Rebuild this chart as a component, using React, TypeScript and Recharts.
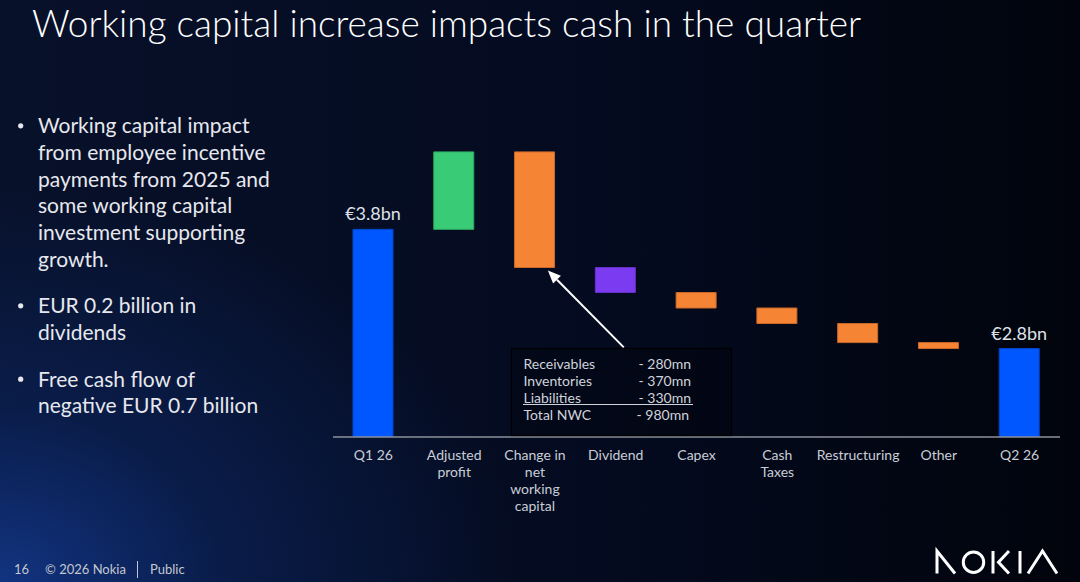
import React from 'react';
import { ComposedChart, Bar, XAxis, YAxis, Cell, LabelList, ReferenceLine } from 'recharts';

const FONT = 'Lato, "Open Sans", sans-serif';

// ---- data ----
const categories = [
  'Q1 26',
  'Adjusted\nprofit',
  'Change in\nnet\nworking\ncapital',
  'Dividend',
  'Capex',
  'Cash\nTaxes',
  'Restructuring',
  'Other',
  'Q2 26',
];
// totals for first & last, deltas in between (EUR bn)
const values = [3.8, 0.65, -0.97, -0.21, -0.13, -0.13, -0.16, -0.05, 2.8];
const kinds = ['total', 'up', 'down', 'purple', 'down', 'down', 'down', 'down', 'total'];
const totalLabels = ['€3.8bn', '', '', '', '', '', '', '', '€2.8bn'];
const yDomain = [2.058, 4.6];

const nwcRows = [
  ['Receivables', '- 280mn'],
  ['Inventories', '- 370mn'],
  ['Liabilities', '- 330mn'],
  ['Total NWC', '- 980mn'],
];

const bullets = [
  ['Working capital impact', 'from employee incentive', 'payments from 2025 and', 'some working capital', 'investment supporting', 'growth.'],
  ['EUR 0.2 billion in', 'dividends'],
  ['Free cash flow of', 'negative EUR 0.7 billion'],
];

// arrow annotation in data space (category index where centres are integers, value)
const arrowFrom = { x: 3.1, y: 2.81 };
const arrowTo = { x: 2.16, y: 3.455 };

const colors: Record<string, string> = {
  total: '#0057FF',
  up: '#39CB75',
  down: '#F58434',
  purple: '#7B3BF0',
};
const strokes: Record<string, string> = {
  total: '#0047cc',
  up: '#2ea862',
  down: '#c9692a',
  purple: '#6630c8',
};

// build waterfall ranges
let running = 0;
const data = categories.map((name, i) => {
  let range: [number, number];
  if (kinds[i] === 'total') {
    running = values[i];
    range = [0, values[i]];
  } else {
    const start = running;
    running = running + values[i];
    range = [Math.min(start, running), Math.max(start, running)];
  }
  return { name, idx: i, range, label: totalLabels[i], kind: kinds[i] };
});

const Tick = (props: any) => {
  const { x, y, payload } = props;
  const lines = String(payload.value).split('\n');
  return (
    <text x={x} y={y} textAnchor="middle" fill="#c9cdd6" fontSize={14} fontFamily={FONT}>
      {lines.map((l, i) => (
        <tspan key={i} x={x} dy={i === 0 ? 23 : 17}>
          {l}
        </tspan>
      ))}
    </text>
  );
};

const ArrowShape = (p: any) => {
  const { x1, y1, x2, y2 } = p;
  const ang = Math.atan2(y2 - y1, x2 - x1);
  const L = 13;
  const W = 5.5;
  const bx = x2 - L * Math.cos(ang);
  const by = y2 - L * Math.sin(ang);
  const px = -Math.sin(ang) * W;
  const py = Math.cos(ang) * W;
  return (
    <g>
      <line x1={x1} y1={y1} x2={bx} y2={by} stroke="#ffffff" strokeWidth={2} />
      <polygon points={`${x2},${y2} ${bx + px},${by + py} ${bx - px},${by - py}`} fill="#ffffff" />
    </g>
  );
};

export default function App() {
  return (
    <div
      style={{
        position: 'absolute',
        left: 0,
        top: 0,
        width: 1080,
        height: 582,
        overflow: 'hidden',
        fontFamily: FONT,
        background:
          'radial-gradient(ellipse 60% 85% at 0% 100%, rgba(20,60,150,0.8) 0%, rgba(12,40,105,0.5) 35%, rgba(0,0,0,0) 80%), linear-gradient(to right, #08112a 0%, #040b20 55%, #01040c 100%)',
      }}
    >
      <div style={{ position: 'absolute', left: 0, top: 0 }}>
        <ComposedChart
          width={1080}
          height={582}
          data={data}
          margin={{ top: 134, right: 20, bottom: 115, left: 333 }}
        >
          <XAxis
            dataKey="name"
            height={30}
            interval={0}
            tickLine={false}
            tickSize={0}
            tickMargin={0}
            axisLine={{ stroke: '#8b909a', strokeWidth: 1.5 }}
            tick={<Tick />}
          />
          <XAxis
            xAxisId="num"
            dataKey="idx"
            type="number"
            domain={[-0.5, 8.5]}
            hide
            allowDataOverflow
          />
          <YAxis hide domain={yDomain} allowDataOverflow type="number" />
          <Bar dataKey="range" barSize={40} isAnimationActive={false}>
            {data.map((d, i) => (
              <Cell key={i} fill={colors[d.kind]} stroke={strokes[d.kind]} strokeWidth={1} />
            ))}
            <LabelList
              dataKey="label"
              position="top"
              offset={9}
              fill="#dfe2e8"
              fontSize={18}
              fontFamily={FONT}
            />
          </Bar>
          <ReferenceLine
            xAxisId="num"
            segment={[arrowFrom, arrowTo]}
            ifOverflow="visible"
            shape={ArrowShape}
          />
        </ComposedChart>
      </div>

      <svg
        width={1080}
        height={582}
        style={{ position: 'absolute', left: 0, top: 0, pointerEvents: 'none' }}
        fontFamily={FONT}
      >
        {/* title */}
        <text x={32} y={37} fill="#ffffff" fontSize={37} fontWeight={300}>
          Working capital increase impacts cash in the quarter
        </text>

        {/* bullets */}
        {(() => {
          const out: any[] = [];
          let y = 133.3;
          bullets.forEach((b, bi) => {
            out.push(<circle key={`d${bi}`} cx={20.7} cy={y - 7.5} r={2.6} fill="#e6e8ee" />);
            b.forEach((line, li) => {
              out.push(
                <text key={`t${bi}-${li}`} x={38} y={y} fill="#e6e8ee" fontSize={21}>
                  {line}
                </text>
              );
              y += 26.67;
            });
            y += 20;
          });
          return out;
        })()}

        {/* NWC box */}
        <rect x={511.5} y={348.5} width={220} height={87} fill="rgba(0,0,0,0.25)" stroke="#000000" strokeWidth={1.2} />
        {nwcRows.map((r, i) => (
          <g key={i}>
            <text x={523.5} y={369 + i * 17} fill="#cfd3db" fontSize={14}>
              {r[0]}
            </text>
            <text x={i === 3 ? 636.5 : 638.5} y={369 + i * 17} fill="#cfd3db" fontSize={14}>
              {r[1]}
            </text>
          </g>
        ))}
        <line x1={523} y1={404.5} x2={693} y2={404.5} stroke="#cfd3db" strokeWidth={1} />

        {/* footer */}
        <text x={14} y={574} fill="#c3c7d0" fontSize={13}>16</text>
        <text x={45} y={574} fill="#c3c7d0" fontSize={13}>© 2026 Nokia</text>
        <line x1={137.5} y1={561} x2={137.5} y2={578} stroke="#c3c7d0" strokeWidth={1} />
        <text x={150} y={574} fill="#c3c7d0" fontSize={13}>Public</text>

        {/* logo */}
        <g stroke="#ffffff" strokeWidth={3} fill="none" strokeLinecap="butt">
          <polyline points="937,573.5 937,551 955,573.5" />
          <circle cx={973.5} cy={562.2} r={10.2} />
          <line x1={993} y1={551} x2={993} y2={573.5} />
          <polyline points="1009,551 998.5,562.2 1009,573.5" />
          <line x1={1020} y1={551} x2={1020} y2={573.5} />
          <polyline points="1028,573.5 1042.5,551 1057,573.5" />
        </g>
      </svg>
    </div>
  );
}
